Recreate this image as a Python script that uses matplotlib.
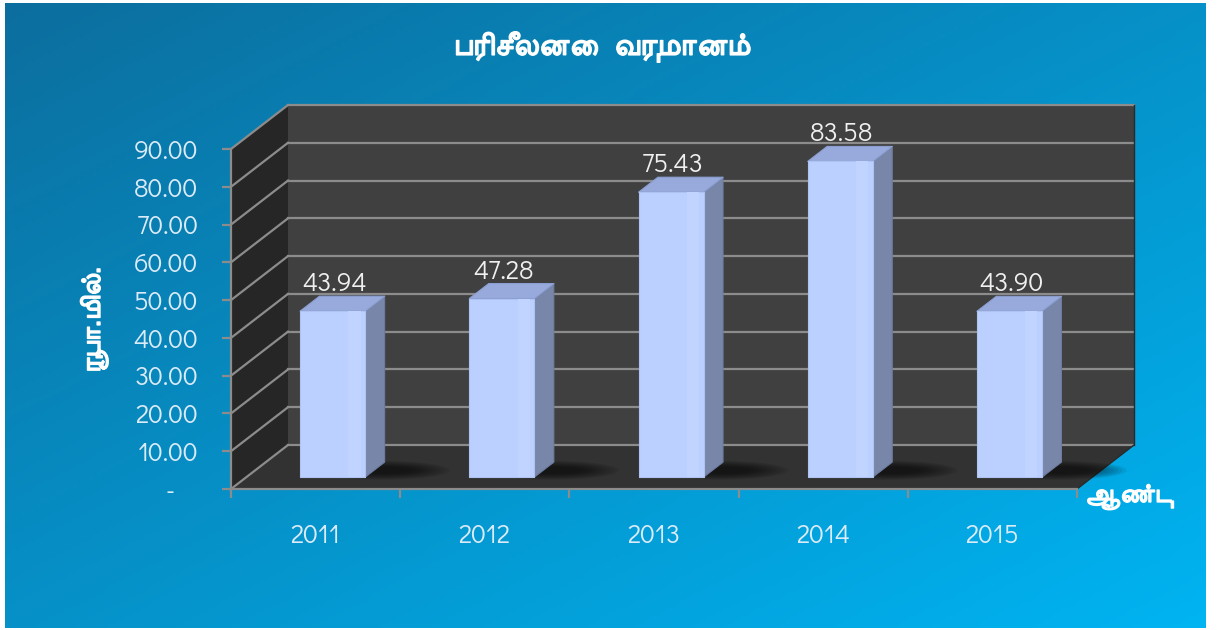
import matplotlib
matplotlib.use("Agg")
import matplotlib.pyplot as plt
import matplotlib.patheffects as pe
import numpy as np
from matplotlib.patches import Polygon, Ellipse

# data
years = ['2011', '2012', '2013', '2014', '2015']
income = [43.94, 47.28, 75.43, 83.58, 43.90]
y_ticks = [0, 10, 20, 30, 40, 50, 60, 70, 80, 90]
y_tick_labels = ['-    '] + [f'{v:.2f}' for v in y_ticks[1:]]
title = 'பரிசீலனை  வருமானம்'
y_title = 'ரூபா.மில்.'
x_title = 'ஆண்டு'

W, H = 1217, 630
tamil = ['FreeSans', 'Anek Tamil', 'DejaVu Sans']
num_font = ['Didact Gothic', 'DejaVu Sans']
bold_fx = [pe.withStroke(linewidth=1.0, foreground='white')]

fig = plt.figure(figsize=(W / 100, H / 100), dpi=100)

# background gradient panel
bg = fig.add_axes([0, 0, 1, 1], zorder=0)
bg.set_xlim(0, W)
bg.set_ylim(H, 0)
bg.axis('off')
xx, yy = np.meshgrid(np.linspace(0, 1, 300), np.linspace(0, 1, 160))
t = (xx + yy) / 2
c0 = np.array([12, 110, 158]) / 255
c1 = np.array([0, 180, 242]) / 255
img = c0 + (c1 - c0) * t[..., None]
bg.imshow(img, extent=[5, 1206, 628, 3], aspect='auto')

# front plane of the 3d chart
ax = fig.add_axes([231 / W, (H - 489) / H, 846 / W, 340 / H], zorder=1)
ax.set_facecolor('none')
ax.set_xlim(0, 5)
ax.set_ylim(0, 90)

DX = 57 / 169.2     # depth offset in category units
DY = 44 / 3.778     # depth offset in value units
grid_c = '#8C8C8C'

# walls and floor
ax.add_patch(Polygon([(DX, DY), (5 + DX, DY), (5 + DX, 90 + DY), (DX, 90 + DY)],
                     closed=True, fc='#404040', ec='none', clip_on=False, zorder=0.5))
ax.add_patch(Polygon([(0, 0), (DX, DY), (DX, 90 + DY), (0, 90)],
                     closed=True, fc='#262626', ec='none', clip_on=False, zorder=0.5))
ax.add_patch(Polygon([(0, 0), (5, 0), (5 + DX, DY), (DX, DY)],
                     closed=True, fc='#323232', ec='none', clip_on=False, zorder=0.6))
for v in y_ticks:
    ax.plot([DX, 5 + DX], [v + DY, v + DY], color=grid_c, lw=1.6, clip_on=False, zorder=0.7)
    ax.plot([0, DX], [v, v + DY], color=grid_c, lw=1.6, clip_on=False, zorder=0.7)
ax.plot([5 + DX, 5 + DX], [DY, 90 + DY], color='#2a2a2a', lw=1, clip_on=False, zorder=0.7)
ax.plot([5, 5 + DX], [0, DY], color='#2a2a2a', lw=1, clip_on=False, zorder=0.7)

# bars
f, b, w = 0.27, 0.34, 0.385
for i, v in enumerate(income):
    x0 = i + 0.5 - w / 2 + f * DX + 0.01
    y0 = f * DY
    # soft floor shadow
    for k in range(10):
        ax.add_patch(Ellipse((x0 + w + 0.1, y0 + 1.8), 0.8 - k * 0.05, 5.0 - k * 0.35,
                             fc='black', ec='none', alpha=0.07, clip_on=False, zorder=0.8))
    side = [(x0 + w, y0), (x0 + w + b * DX, y0 + b * DY),
            (x0 + w + b * DX, y0 + b * DY + v), (x0 + w, y0 + v)]
    top = [(x0, y0 + v), (x0 + w, y0 + v),
           (x0 + w + b * DX, y0 + b * DY + v), (x0 + b * DX, y0 + b * DY + v)]
    front = [(x0, y0), (x0 + w, y0), (x0 + w, y0 + v), (x0, y0 + v)]
    ax.add_patch(Polygon(side, closed=True, fc='#7886AA', ec='#6E7CA0', lw=0.8,
                         joinstyle='round', clip_on=False, zorder=3))
    ax.add_patch(Polygon(top, closed=True, fc='#97AADB', ec='#8C9FD2', lw=0.8,
                         joinstyle='round', clip_on=False, zorder=3))
    ax.add_patch(Polygon(front, closed=True, fc='#BCD0FF', ec='#AFC3F2', lw=0.8,
                         joinstyle='round', clip_on=False, zorder=3))
    ax.add_patch(Polygon([(x0 + w * 0.74, y0), (x0 + w * 0.93, y0),
                          (x0 + w * 0.93, y0 + v), (x0 + w * 0.74, y0 + v)],
                         closed=True, fc='#C1D4FF', ec='none', clip_on=False, zorder=3.1))
    ax.text(x0 + w / 2 + 0.01, y0 + b * DY + v, f'{v:.2f}', ha='center', va='bottom',
            fontsize=19, color='#F0F0F0', family=num_font, zorder=4)

# axes lines and ticks
for s in ['top', 'right']:
    ax.spines[s].set_visible(False)
for s in ['left', 'bottom']:
    ax.spines[s].set_color(grid_c)
    ax.spines[s].set_linewidth(1.6)
ax.set_yticks(y_ticks)
ax.set_yticklabels(y_tick_labels, family=num_font)
ax.tick_params(axis='y', length=6.5, width=1.6, color=grid_c, pad=17,
               labelsize=19, labelcolor='#DCEBF8')
ax.set_xticks(range(6))
ax.set_xticklabels([])
ax.set_xticks(np.arange(5) + 0.5, minor=True)
ax.set_xticklabels(years, minor=True, family=num_font)
ax.tick_params(axis='x', which='major', length=6.5, width=1.6, color=grid_c)
ax.tick_params(axis='x', which='minor', length=0, pad=25, labelsize=19,
               labelcolor='#DCEBF8')

# titles
fig.text(602 / W, 1 - 47 / H, title, ha='center', va='center', fontsize=23,
         color='white', family=tamil, path_effects=bold_fx)
fig.text(94 / W, 1 - 320 / H, y_title, ha='center', va='center', rotation=90,
         fontsize=20, color='white', family=tamil, path_effects=bold_fx)
fig.text(1085 / W, 1 - 497 / H, x_title, ha='left', va='center', fontsize=19,
         color='white', family=tamil, path_effects=bold_fx)

fig.savefig('out.png', dpi=100)
